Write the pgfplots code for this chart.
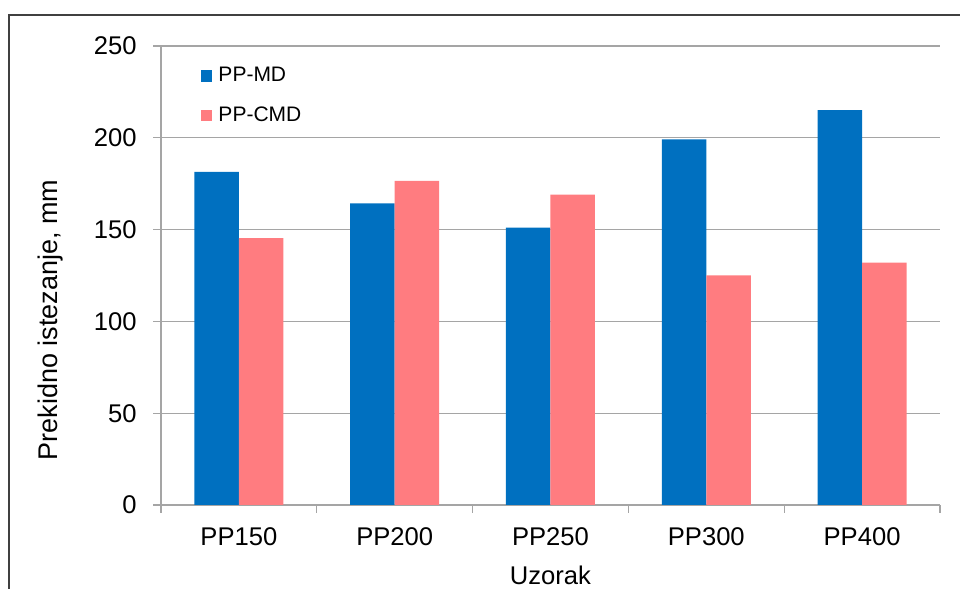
\documentclass[border=0pt]{standalone}
\usepackage{fontspec}
\setmainfont{Liberation Sans}
\usepackage{pgfplots}
\pgfplotsset{compat=1.18}
\definecolor{mdblue}{RGB}{0,112,192}
\definecolor{cmdpink}{RGB}{255,124,128}
\definecolor{gridgray}{RGB}{165,165,165}
\begin{document}
\begin{tikzpicture}
\useasboundingbox (0,0) rectangle (480pt,294.5pt);
\draw[line width=1.1pt, black!75] (4.5pt,-1pt) -- (4.5pt,287pt) -- (481pt,287pt);
\begin{axis}[
  at={(80.5pt,42pt)}, anchor=south west,
  scale only axis, width=389.5pt, height=229.5pt,
  ybar=0pt, bar width=22.25pt,
  xmin=-0.5, xmax=4.5, ymin=0, ymax=250,
  ytick={0,50,...,250},
  xtick={0,...,4}, xticklabels={PP150,PP200,PP250,PP300,PP400},
  minor xtick={-0.5,0.5,...,4.5},
  major x tick style={draw=none},
  axis lines*=left,
  axis line style={gridgray, line width=0.65pt, -},
  tick style={gridgray, line width=0.65pt},
  tick align=outside, major tick length=4pt, minor tick length=4pt,
  ymajorgrids, grid style={gridgray, line width=0.65pt},
  /pgf/number format/assume math mode=true,
  tick label style={font=\fontsize{12.8}{15}\selectfont, text=black},
  yticklabel style={inner sep=0pt, xshift=-8pt},
  xticklabel style={inner sep=0pt, yshift=-7.3pt},
  xlabel={Uzorak},
  xlabel style={font=\fontsize{12.8}{15}\selectfont, at={(axis description cs:0.5,0)}, anchor=north, inner sep=0pt, yshift=-30.5pt},
  ylabel={Prekidno istezanje, mm},
  ylabel style={font=\fontsize{13.5}{15}\selectfont, at={(axis description cs:-0.1258,0.403)}, anchor=south, inner sep=0pt},
  legend cell align=left,
  legend style={at={(axis description cs:0.0507,0.9612)}, anchor=north west, draw=none, fill=none, inner sep=0pt, row sep=8pt, font=\fontsize{10.5}{12}\selectfont, nodes={inner sep=1.5pt}},
  legend image code/.code={\fill[#1] (0pt,-2.8pt) rectangle (5.6pt,2.8pt); \path (7.3pt,0pt);},
]
\addplot[fill=mdblue, draw=none] coordinates {(0,181.5) (1,164.3) (2,151.1) (3,199.2) (4,215.1)};
\addplot[fill=cmdpink, draw=none] coordinates {(0,145.3) (1,176.6) (2,169.0) (3,125.1) (4,132.0)};
\legend{PP-MD, PP-CMD}
\end{axis}
\end{tikzpicture}
\end{document}
